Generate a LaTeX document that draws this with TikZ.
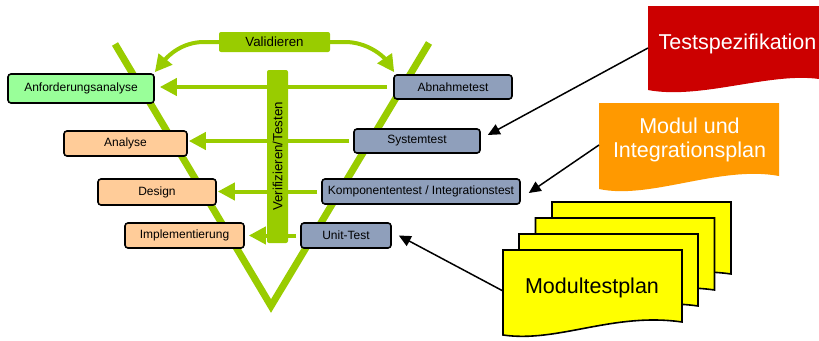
\documentclass[tikz,border=0pt]{standalone}
\usepackage{fontspec}
\setmainfont{Liberation Sans}
\usetikzlibrary{arrows.meta}
\definecolor{vgreen}{HTML}{99CC00}
\definecolor{lgreen}{HTML}{99FF99}
\definecolor{peach}{HTML}{FFCC99}
\definecolor{bluegray}{RGB}{143,159,187}
\definecolor{docred}{HTML}{CC0000}
\definecolor{docorange}{HTML}{FF9900}
\definecolor{docyellow}{HTML}{FFFF00}
\pgfdeclarelayer{bg}
\pgfsetlayers{bg,main}
\tikzset{
  box/.style={draw=black, line width=1.6pt, rounded corners=3pt, inner sep=0pt,
    font=\fontsize{12}{14}\selectfont},
  reqbox/.style={box, fill=lgreen},
  phasebox/.style={box, fill=peach},
  testbox/.style={box, fill=bluegray},
  gbar/.style={fill=vgreen, rounded corners=2pt, inner sep=0pt,
    font=\fontsize{13.3}{15}\selectfont},
  garrow/.style={draw=vgreen, line width=4pt, -{Triangle[length=17pt,width=17pt]}},
  karrow/.style={draw=black, line width=1.5pt, -{Triangle[length=12pt,width=11pt]}},
  vline/.style={draw=vgreen, line width=7pt, line join=miter},
  doctext/.style={text=white, font=\fontsize{21.5}{24.5}\selectfont, align=center, inner sep=0pt},
  sheettext/.style={text=black, font=\fontsize{21.5}{24.5}\selectfont, inner sep=0pt},
  sheet/.style={fill=docyellow, draw=black, line width=1.6pt},
}
\newcommand\mysheet[2]{\filldraw[sheet] (#1,#2) -- ++(179,0) -- ++(0,72)
  .. controls +(-69,-10) and +(55,8) .. ++(-179,13) -- cycle;}
\begin{document}
\begin{tikzpicture}[x=1pt,y=-1pt]
\useasboundingbox (0,0) rectangle (819,340);

% V shape coordinates
\coordinate (vL) at (115,44);
\coordinate (vB) at (271,306);
\coordinate (vR) at (429,43);

% boxes
\node[reqbox, minimum width=146, minimum height=29] (anf) at (81,88.5) {Anforderungsanalyse};
\node[testbox, minimum width=118, minimum height=24] (abn) at (453,87) {Abnahmetest};
\node[phasebox, minimum width=123, minimum height=25] (ana) at (125.5,143.5) {Analyse};
\node[testbox, minimum width=126, minimum height=24] (sys) at (417,141) {Systemtest};
\node[phasebox, minimum width=118, minimum height=26] (des) at (157,192) {Design};
\node[testbox, minimum width=198, minimum height=25] (kom) at (421,191.5) {Komponententest / Integrationstest};
\node[phasebox, minimum width=119, minimum height=25] (imp) at (184.5,235.5) {Implementierung};
\node[testbox, minimum width=90, minimum height=25] (unit) at (346,235.5) {Unit-Test};

% green labels
\node[gbar, minimum width=111, minimum height=20] (val) at (274.5,42) {Validieren};
\node[gbar, rotate=90, minimum width=173, minimum height=21] (ver) at (277.5,156.5) {Verifizieren/Testen};

% documents text
\node[doctext] (ts) at (737.5,44) {Testspezifikation};
\coordinate (tsL) at (648,48);
\node[doctext] (mip) at (689.5,140) {Modul und\\Integrationsplan};
\coordinate (mipL) at (599,145);
\node[sheettext] (mtp) at (592,288) {Modultestplan};
\coordinate (mtpL) at (503,291);

\begin{pgfonlayer}{bg}
  \draw[vline] (vL) -- (vB) -- (vR);
  % horizontal verification arrows
  \draw[garrow] ([xshift=-6]abn.west) -- ([xshift=5]abn.west -| anf.east);
  \draw[garrow] ([xshift=-4]sys.west) -- ([xshift=1]sys.west -| ana.east);
  \draw[garrow] ([xshift=-4]kom.west) -- ([xshift=1]kom.west -| des.east);
  \draw[garrow] ([xshift=-4]unit.west) -- ([xshift=4]unit.west -| imp.east);
  % validation arrows
  \draw[garrow] (val.west) -- ++(-15,0) .. controls +(-22,0) and +(13,-16) .. ([shift={(0,-1)}]anf.north east);
  \draw[garrow] (val.east) -- ++(15,0) .. controls +(22,0) and +(-11,-16) .. ([shift={(1,-2)}]abn.north west);
  % documents
  \fill[docred] (648,6) -- (819,6) -- (819,79) .. controls (770,72) and (700,100) .. (648,90) -- cycle;
  \fill[docorange] (599,103) -- (779,103) -- (779,176) .. controls (720,165) and (650,200) .. (599,189) -- cycle;
  \mysheet{552}{202}
  \mysheet{535.5}{218}
  \mysheet{519}{234}
  \mysheet{503}{250}
\end{pgfonlayer}

% document arrows
\draw[karrow] (tsL) -- ([shift={(7,-6)}]sys.east);
\draw[karrow] (mipL) -- ([shift={(8,1.5)}]kom.east);
\draw[karrow] (mtpL) -- ([shift={(7,0)}]unit.east);
\end{tikzpicture}
\end{document}
